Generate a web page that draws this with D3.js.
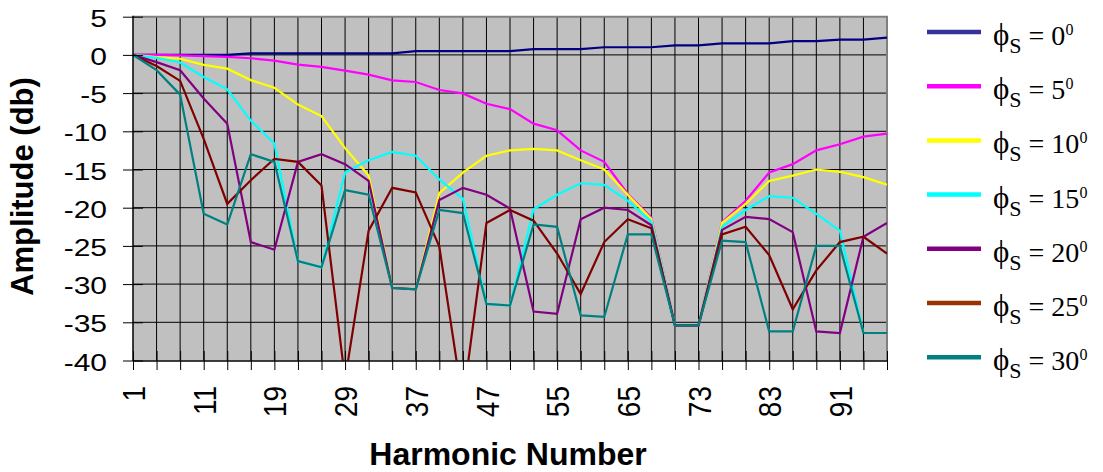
<!DOCTYPE html>
<html><head><meta charset="utf-8">
<script src="https://cdn.jsdelivr.net/npm/d3@7"></script>
<style>body{margin:0;background:#fff}svg{display:block}</style>
</head><body>
<svg id="c" width="1103" height="472"></svg>
<script>
// ---- data ----
const categories = [1,5,7,11,13,17,19,23,25,29,31,35,37,41,43,47,49,53,55,59,61,65,67,71,73,77,79,83,85,89,91,95,97];
const tickLabels = [1,11,19,29,37,47,55,65,73,83,91];
const yTicks = [5,0,-5,-10,-15,-20,-25,-30,-35,-40];
const seriesAngles = ["0","5","10","15","20","25","30"];

const phi0  = [0,0,0,0,0,0.2,0.2,0.2,0.2,0.2,0.2,0.2,0.5,0.5,0.5,0.5,0.5,0.75,0.75,0.75,1.0,1.0,1.0,1.25,1.25,1.5,1.5,1.5,1.8,1.8,2.0,2.0,2.25];
const phi5  = [0,0,-0.05,-0.15,-0.26,-0.44,-0.74,-1.27,-1.57,-2.05,-2.58,-3.33,-3.55,-4.6,-5.04,-6.4,-7.1,-9.0,-9.87,-12.5,-14.0,-18.2,-21.3,-35.4,-35.4,-21.9,-19.1,-15.4,-14.3,-12.5,-11.7,-10.7,-10.3];
const phi10 = [0,-0.3,-0.5,-1.3,-1.8,-3.3,-4.3,-6.5,-8.0,-12.2,-15.8,-30.5,-30.7,-18.1,-15.4,-13.2,-12.5,-12.3,-12.5,-13.8,-15.0,-18.3,-21.5,-35.4,-35.4,-22.0,-19.5,-16.5,-15.8,-15.0,-15.3,-16.0,-17.0];
const phi15 = [0,-0.4,-1.0,-2.9,-4.5,-8.6,-11.6,-27.0,-27.8,-15.4,-13.8,-12.7,-13.2,-16.3,-18.8,-32.6,-32.8,-20.2,-18.3,-16.8,-17.0,-19.1,-21.8,-35.4,-35.4,-22.5,-20.3,-18.5,-18.7,-20.8,-23.0,-36.4,-36.4];
const phi20 = [0,-0.95,-2.0,-5.7,-9.0,-24.5,-25.5,-14.0,-13.0,-14.3,-16.5,-30.5,-30.7,-19.0,-17.4,-18.3,-20.1,-33.6,-33.9,-21.5,-20.0,-20.3,-22.3,-35.4,-35.4,-22.9,-21.2,-21.5,-23.2,-36.2,-36.4,-23.8,-22.0];
const phi25 = [0,-1.45,-3.4,-11.0,-19.5,-16.4,-13.6,-14.0,-17.1,-42.5,-23.0,-17.4,-18.0,-25.1,-45.5,-22.0,-20.3,-21.7,-26.0,-31.3,-24.5,-21.5,-22.7,-35.4,-35.4,-23.5,-22.5,-26.2,-33.3,-28.2,-24.5,-23.8,-26.0];
const phi30 = [0,-2.0,-5.2,-20.8,-22.2,-13.0,-14.0,-27.0,-27.8,-17.7,-18.3,-30.5,-30.7,-20.3,-20.7,-32.6,-32.8,-22.2,-22.5,-34.1,-34.3,-23.5,-23.5,-35.4,-35.4,-24.3,-24.5,-36.2,-36.2,-25.0,-25.0,-36.4,-36.4];
const seriesValues = [phi0, phi5, phi10, phi15, phi20, phi25, phi30];

// ---- styles ----
const lineColors   = ["#000080","#ff00ff","#ffff00","#00ffff","#800080","#800000","#008080"];
const legendColors = ["#333399","#ff00ff","#ffff00","#00ffff","#800080","#993300","#008080"];

const svg = d3.select("#c");
const W = 1103, H = 472;
const L = 133, R = 887, T = 16.7, B = 360.5;
const x = d3.scalePoint().domain(categories).range([L, R]);
const y = d3.scaleLinear().domain([-40, 5]).range([B, T]);

svg.append("rect").attr("width", W).attr("height", H).attr("fill", "#fff");
svg.append("rect").attr("x", L).attr("y", T).attr("width", R - L).attr("height", B - T).attr("fill", "#c0c0c0");

// grid
svg.append("g").selectAll("line").data(categories.slice(1, -1)).join("line")
  .attr("x1", d => x(d)).attr("x2", d => x(d)).attr("y1", T).attr("y2", B)
  .attr("stroke", "#000").attr("stroke-width", 1);
svg.append("g").selectAll("line").data(yTicks.slice(1, -1)).join("line")
  .attr("x1", L).attr("x2", R).attr("y1", d => y(d)).attr("y2", d => y(d))
  .attr("stroke", "#000").attr("stroke-width", 1);

// border top/right gray
svg.append("line").attr("x1", L).attr("x2", R + 1).attr("y1", T).attr("y2", T).attr("stroke", "#808080").attr("stroke-width", 2);
svg.append("line").attr("x1", R).attr("x2", R).attr("y1", T).attr("y2", B).attr("stroke", "#808080").attr("stroke-width", 2);

// clip
svg.append("defs").append("clipPath").attr("id", "clip")
  .append("rect").attr("x", L).attr("y", T).attr("width", R - L).attr("height", B - T);

// series
const line = d3.line().x((d, i) => x(categories[i])).y(d => y(d));
svg.append("g").attr("clip-path", "url(#clip)").selectAll("path").data(seriesValues).join("path")
  .attr("d", d => line(d)).attr("fill", "none")
  .attr("stroke", (d, i) => lineColors[i]).attr("stroke-width", 2.2)
  .attr("stroke-linejoin", "miter");

// y axis
const yAxis = d3.axisLeft(y).tickValues(yTicks).tickSize(20).tickPadding(16).tickFormat(d => String(d));
const gy = svg.append("g").attr("transform", `translate(${L + 10},0)`).call(yAxis);
gy.select(".domain").remove();
gy.selectAll(".tick line").attr("stroke", "#000").attr("stroke-width", 1);
gy.selectAll(".tick text")
  .attr("x", 0).attr("dy", "0.36em")
  .attr("transform", "translate(-36,1) scale(1.25,1)")
  .attr("font-family", "Liberation Sans, Arial, sans-serif").attr("font-size", 24).attr("fill", "#000");
svg.append("line").attr("x1", L).attr("x2", L).attr("y1", T - 1).attr("y2", B + 0.5).attr("stroke", "#000").attr("stroke-width", 1.5);

// x axis
const xAxis = d3.axisBottom(x).tickValues(categories).tickSize(19).tickPadding(0)
  .tickFormat(d => tickLabels.includes(d) ? String(d) : "");
const gx = svg.append("g").attr("transform", `translate(0,${B - 9.5})`).call(xAxis);
gx.select(".domain").remove();
gx.selectAll(".tick line").attr("stroke", "#000").attr("stroke-width", 1);
gx.selectAll(".tick text")
  .attr("x", 0).attr("y", 0).attr("dy", "0.36em").attr("text-anchor", "end")
  .attr("transform", "translate(0,35) scale(1.15,1) rotate(-90)")
  .attr("font-family", "Liberation Sans, Arial, sans-serif").attr("font-size", 28).attr("fill", "#000");
svg.append("line").attr("x1", L).attr("x2", R + 1).attr("y1", B + 0.5).attr("y2", B + 0.5).attr("stroke", "#000").attr("stroke-width", 1.5);

// titles
svg.append("text").attr("x", 508).attr("y", 465).attr("text-anchor", "middle")
  .attr("font-family", "Liberation Sans, Arial, sans-serif").attr("font-weight", "bold").attr("font-size", 32)
  .text("Harmonic Number");
svg.append("text").attr("transform", "translate(33,186.5) rotate(-90)").attr("text-anchor", "middle")
  .attr("font-family", "Liberation Sans, Arial, sans-serif").attr("font-weight", "bold").attr("font-size", 31)
  .text("Amplitude (db)");

// legend
const lg = svg.append("g").selectAll("g").data(seriesAngles).join("g")
  .attr("transform", (d, i) => `translate(0,${32 + i * 54.2})`);
lg.append("line").attr("x1", 927).attr("x2", 981).attr("y1", 0).attr("y2", 0)
  .attr("stroke", (d, i) => legendColors[i]).attr("stroke-width", 4.5);
const lt = lg.append("text").attr("x", 993).attr("y", 13)
  .attr("font-family", "Liberation Serif, Times New Roman, serif").attr("font-size", 28).attr("fill", "#000");
lt.append("tspan").attr("font-size", 31).text("\u03D5");
lt.append("tspan").attr("font-size", 22).attr("dy", 8).text("S");
lt.append("tspan").attr("dy", -8).text(d => " = " + d);
lt.append("tspan").attr("font-size", 16).attr("dy", -10).text("0");
</script>
</body></html>
